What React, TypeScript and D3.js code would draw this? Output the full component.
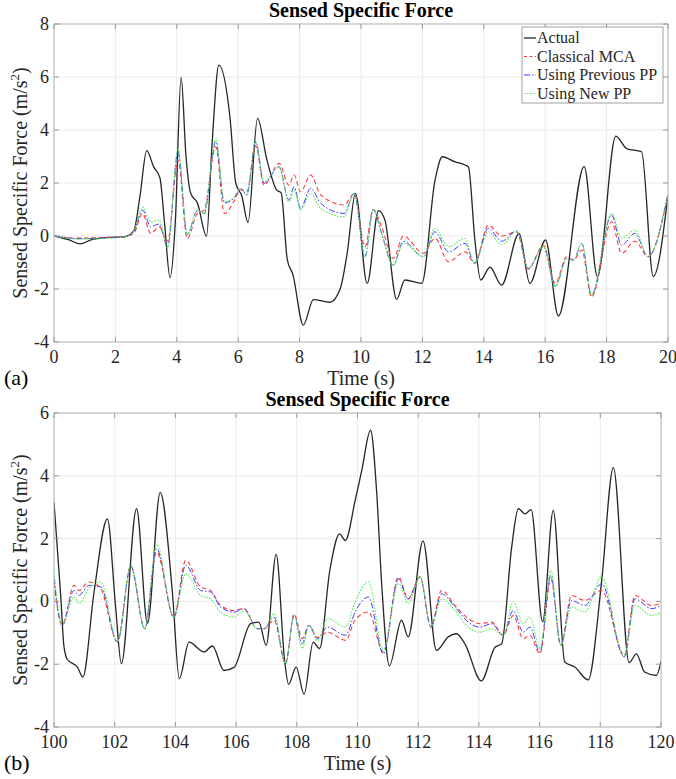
import React from "react";
import * as d3 from "d3";

// ---------- Panel (a): 0..20 s ----------
const tA_actual = [0, 0.5, 0.85, 1.2, 1.8, 2.3, 2.6, 2.8, 3.02, 3.25, 3.45, 3.6, 3.78, 3.95, 4.14, 4.3, 4.45, 4.67, 4.97, 5.15, 5.37, 5.73, 5.92, 6.12, 6.32, 6.63, 6.93, 7.25, 7.4, 7.6, 7.78, 8.12, 8.45, 8.99, 9.32, 9.55, 9.82, 10.2, 10.57, 10.78, 11.16, 11.43, 11.98, 12.41, 12.65, 13.06, 13.39, 13.5, 13.71, 13.9, 14.2, 14.58, 15.15, 15.5, 16.01, 16.43, 17.27, 17.7, 18.3, 18.65, 19.14, 19.52, 20];
const vA_actual = [0, -0.15, -0.3, -0.15, -0.05, -0.03, 0.2, 1.5, 3.22, 2.6, 2.2, 0.5, -1.57, 0.5, 5.99, 3.0, 1.62, 1.25, 0.0, 3.5, 6.45, 4.5, 2.0, 1.5, 0.5, 4.44, 2.9, 1.74, 1.62, -0.9, -1.45, -3.36, -2.4, -2.5, -2.0, -0.65, 1.61, -1.79, 0.96, 0.6, -2.39, -1.66, -1.79, 2.1, 2.99, 2.8, 2.68, 2.6, -0.15, -1.66, -1.18, -1.85, 0.1, -1.79, -0.15, -3.02, 2.62, -1.53, 3.77, 3.3, 3.18, -1.53, 1.55];

const tA_sim = [0, 0.8, 1.5, 2.3, 2.6, 2.88, 3.15, 3.42, 3.7, 4.04, 4.34, 4.67, 4.89, 5.27, 5.55, 5.86, 6.08, 6.28, 6.57, 6.84, 7.33, 7.65, 7.82, 8.03, 8.36, 8.69, 9.45, 9.78, 10.13, 10.4, 10.67, 11.05, 11.38, 12.03, 12.41, 12.85, 13.39, 13.7, 14.15, 14.58, 15.07, 15.45, 15.94, 16.33, 16.7, 16.92, 17.19, 17.51, 18.16, 18.49, 18.92, 19.35, 20];
const vA_classical = [0, -0.08, -0.06, -0.02, 0.1, 0.85, 0.1, 0.35, -0.2, 2.87, -0.09, 0.85, 0.98, 3.37, 0.85, 1.3, 1.75, 1.67, 3.4, 1.92, 2.74, 1.92, 2.3, 1.67, 2.3, 1.55, 1.17, 1.6, -0.4, 1.0, 0.35, -0.85, 0.0, -0.65, -0.09, -0.97, -0.6, -1.03, 0.41, 0.0, 0.15, -1.25, -0.35, -1.79, -0.78, -0.91, -0.53, -2.3, 0.54, -0.65, -0.2, -0.78, 1.55];
const vA_previous = [0, -0.1, -0.08, -0.03, 0.17, 0.98, 0.35, 0.45, -0.4, 3.18, 0.06, 0.96, 0.85, 3.56, 1.25, 1.42, 1.8, 1.55, 3.56, 1.99, 2.61, 1.36, 1.86, 1.04, 1.8, 1.23, 0.85, 1.61, -0.78, 1.0, 0.1, -1.1, -0.2, -0.78, 0.16, -0.6, -0.28, -1.03, 0.29, -0.2, 0.19, -1.22, -0.4, -1.9, -0.85, -0.91, -0.28, -2.23, 0.79, -0.35, 0.1, -0.78, 1.6];
const vA_new = [0, -0.12, -0.1, -0.04, 0.2, 1.1, 0.54, 0.6, -0.45, 3.31, 0.08, 0.96, 0.85, 3.68, 1.3, 1.45, 1.8, 1.55, 3.6, 2.05, 2.6, 1.3, 1.73, 0.98, 1.61, 1.04, 0.73, 1.6, -0.78, 1.0, 0.1, -1.1, -0.27, -0.78, 0.29, -0.4, -0.09, -1.03, 0.16, -0.33, 0.19, -1.22, -0.4, -1.9, -0.85, -0.91, -0.28, -2.2, 0.86, -0.09, 0.22, -0.78, 1.6];

// ---------- Panel (b): 100..120 s ----------
const tB_actual = [100, 100.22, 100.33, 100.44, 100.77, 100.95, 101.32, 101.76, 102.03, 102.22, 102.72, 103.08, 103.5, 103.9, 104.13, 104.45, 104.94, 105.22, 105.6, 105.93, 106.48, 106.75, 106.99, 107.32, 107.6, 107.73, 107.98, 108.24, 108.54, 108.75, 109.09, 109.41, 109.6, 109.92, 110.14, 110.43, 110.63, 110.8, 111.05, 111.45, 111.67, 112.16, 112.6, 112.99, 113.26, 113.54, 114.08, 114.53, 114.75, 115.08, 115.3, 115.52, 115.72, 116.1, 116.45, 116.83, 117.16, 117.6, 118.04, 118.43, 118.95, 119.19, 119.46, 119.85, 120];
const vB_actual = [3.16, 0.2, -1.45, -1.85, -2.09, -2.41, 0.3, 2.63, -0.18, -1.98, 2.95, -0.7, 3.47, 0.3, -2.46, -1.3, -1.61, -1.42, -2.2, -2.1, -0.71, -0.66, -1.4, 1.5, -1.9, -2.64, -2.09, -2.96, -1.3, -1.5, 1.0, 2.15, 1.94, 3.2, 4.17, 5.45, 3.5, 0.5, -2.05, -0.6, -1.13, 1.93, -1.56, -1.13, -1.03, -1.35, -2.53, -1.46, -1.35, 1.73, 2.95, 2.79, 2.92, -0.65, 2.9, -1.93, -2.09, -2.5, 0.6, 4.26, -1.95, -1.67, -2.25, -2.36, -1.9];

const tB_sim = [100, 100.27, 100.66, 100.82, 101.15, 101.54, 102.09, 102.53, 102.99, 103.38, 103.95, 104.34, 104.83, 105.16, 105.49, 105.93, 106.26, 106.7, 106.92, 107.25, 107.63, 107.91, 108.18, 108.4, 108.68, 109.01, 109.61, 109.92, 110.36, 110.85, 111.35, 111.67, 112.06, 112.42, 112.77, 113.21, 113.65, 114.03, 114.42, 114.8, 115.13, 115.46, 115.68, 116.01, 116.37, 116.7, 117.05, 117.49, 118.04, 118.79, 119.14, 119.69, 120];
const vB_classical = [0.56, -0.76, 0.51, 0.35, 0.62, 0.4, -1.29, 1.12, -0.87, 1.57, -0.5, 1.31, 0.46, 0.35, -0.13, -0.29, -0.23, -0.87, -0.87, -0.6, -1.98, -0.4, -1.19, -0.76, -1.15, -0.98, -1.24, -0.6, -0.34, -1.61, 0.78, 0.08, 0.78, -0.82, 0.35, -0.13, -0.55, -0.71, -0.66, -1.08, -0.45, -1.19, -1.08, -1.67, 0.72, -1.4, 0.19, 0.03, 0.35, -1.72, 0.19, -0.13, -0.07];
const vB_previous = [0.73, -0.76, 0.35, 0.19, 0.51, 0.46, -1.29, 1.12, -0.87, 1.68, -0.5, 1.15, 0.35, 0.3, -0.18, -0.34, -0.23, -0.87, -0.87, -0.5, -1.98, -0.45, -1.35, -0.76, -1.19, -0.82, -1.08, -0.34, 0.14, -1.67, 0.72, 0.08, 0.78, -0.82, 0.24, -0.18, -0.66, -0.82, -0.71, -1.08, -0.29, -0.98, -0.82, -1.61, 0.83, -1.4, 0.03, -0.13, 0.56, -1.77, 0.08, -0.23, -0.13];
const vB_new = [0.99, -0.76, 0.14, -0.07, 0.4, 0.62, -1.29, 1.18, -0.87, 1.81, -0.5, 0.88, 0.19, 0.08, -0.34, -0.5, -0.3, -0.87, -0.87, -0.4, -1.98, -0.45, -1.5, -0.76, -1.25, -0.55, -0.82, -0.02, 0.62, -1.55, 0.56, -0.07, 0.78, -0.82, 0.08, -0.29, -0.82, -0.98, -0.87, -1.08, -0.02, -0.71, -0.5, -1.5, 0.99, -1.4, -0.18, -0.34, 0.77, -1.7, -0.13, -0.45, -0.34];

const xTicksA = [0, 2, 4, 6, 8, 10, 12, 14, 16, 18, 20];
const yTicksA = [-4, -2, 0, 2, 4, 6, 8];
const xTicksB = [100, 102, 104, 106, 108, 110, 112, 114, 116, 118, 120];
const yTicksB = [-4, -2, 0, 2, 4, 6];

const legendLabels = ["Actual", "Classical MCA", "Using Previous PP", "Using New PP"];

const FONT = "'Liberation Serif', 'Times New Roman', serif";

const STYLES = [
  { color: "#262626", width: 1.3, dash: "" },
  { color: "#ff3b3b", width: 1.1, dash: "4.5,3" },
  { color: "#3b3bff", width: 1.0, dash: "6,2,1.5,2" },
  { color: "#55ee55", width: 1.1, dash: "1.6,1.4" },
];

type PanelProps = {
  id: string;
  left: number; right: number; top: number; bottom: number;
  xDomain: [number, number]; yDomain: [number, number];
  xTicks: number[]; yTicks: number[];
  series: { t: number[]; v: number[] }[];
  letter: string;
  legend?: boolean;
};

function Panel(p: PanelProps) {
  const x = d3.scaleLinear().domain(p.xDomain).range([p.left, p.right]);
  const y = d3.scaleLinear().domain(p.yDomain).range([p.bottom, p.top]);
  const line = d3.line<[number, number]>().x(d => x(d[0])).y(d => y(d[1])).curve(d3.curveMonotoneX);
  const cx = (p.left + p.right) / 2;
  const cy = (p.top + p.bottom) / 2;
  return (
    <g>
      <defs>
        <clipPath id={p.id}>
          <rect x={p.left} y={p.top} width={p.right - p.left} height={p.bottom - p.top} />
        </clipPath>
      </defs>
      <rect x={p.left} y={p.top} width={p.right - p.left} height={p.bottom - p.top} fill="#fff" />
      {p.xTicks.map(t => (
        <line key={"gx" + t} x1={x(t)} x2={x(t)} y1={p.top} y2={p.bottom} stroke="#ebebeb" strokeWidth={1} />
      ))}
      {p.yTicks.map(t => (
        <line key={"gy" + t} x1={p.left} x2={p.right} y1={y(t)} y2={y(t)} stroke="#ebebeb" strokeWidth={1} />
      ))}
      <g clipPath={`url(#${p.id})`}>
        {p.series.map((s, i) => (
          <path key={i} d={line(s.t.map((t, k) => [t, s.v[k]] as [number, number])) || ""}
            fill="none" stroke={STYLES[i].color} strokeWidth={STYLES[i].width}
            strokeDasharray={STYLES[i].dash} strokeLinejoin="round" />
        ))}
      </g>
      <rect x={p.left} y={p.top} width={p.right - p.left} height={p.bottom - p.top} fill="none" stroke="#b8b8b8" strokeWidth={1} />
      {p.xTicks.map(t => (
        <g key={"tx" + t}>
          <line x1={x(t)} x2={x(t)} y1={p.bottom} y2={p.bottom - 5} stroke="#9a9a9a" />
          <line x1={x(t)} x2={x(t)} y1={p.top} y2={p.top + 5} stroke="#9a9a9a" />
          <text x={x(t)} y={p.bottom + 21} textAnchor="middle" fontSize={18} fill="#262626" fontFamily={FONT}>{t}</text>
        </g>
      ))}
      {p.yTicks.map(t => (
        <g key={"ty" + t}>
          <line x1={p.left} x2={p.left + 5} y1={y(t)} y2={y(t)} stroke="#9a9a9a" />
          <line x1={p.right} x2={p.right - 5} y1={y(t)} y2={y(t)} stroke="#9a9a9a" />
          <text x={p.left - 5} y={y(t) + 6} textAnchor="end" fontSize={18} fill="#262626" fontFamily={FONT}>{t}</text>
        </g>
      ))}
      <text x={cx} y={p.top - 7} textAnchor="middle" fontSize={20} fontWeight="bold" fill="#000" fontFamily={FONT}>Sensed Specific Force</text>
      <text x={cx} y={p.bottom + 43} textAnchor="middle" fontSize={20} fill="#262626" fontFamily={FONT}>Time (s)</text>
      <text transform={`translate(27,${cy}) rotate(-90)`} textAnchor="middle" fontSize={20} fill="#262626" fontFamily={FONT}>
        Sensed Specific Force (m/s<tspan dy={-8} fontSize={13}>2</tspan><tspan dy={8}>)</tspan>
      </text>
      <text x={4} y={p.bottom + 43} fontSize={22} fill="#000" fontFamily={FONT}>{p.letter}</text>
      {p.legend && (
        <g>
          <rect x={522} y={27} width={141} height={76} fill="#fff" stroke="#8a8a8a" strokeWidth={0.8} />
          {legendLabels.map((lab, i) => (
            <g key={lab}>
              <line x1={524} x2={536} y1={38 + i * 18.5} y2={38 + i * 18.5}
                stroke={STYLES[i].color} strokeWidth={STYLES[i].width} strokeDasharray={i === 1 ? "3,2.5" : STYLES[i].dash} />
              <text x={537} y={43 + i * 18.5} fontSize={16} fill="#262626" fontFamily={FONT}>{lab}</text>
            </g>
          ))}
        </g>
      )}
    </g>
  );
}

export default function App() {
  return (
    <svg width={676} height={779} style={{ position: "absolute", left: 0, top: 0, background: "#fff" }}>
      <rect width={676} height={779} fill="#fff" />
      <Panel id="clipA" left={54} right={668} top={24} bottom={342}
        xDomain={[0, 20]} yDomain={[-4, 8]} xTicks={xTicksA} yTicks={yTicksA} letter="(a)" legend
        series={[
          { t: tA_actual, v: vA_actual },
          { t: tA_sim, v: vA_classical },
          { t: tA_sim, v: vA_previous },
          { t: tA_sim, v: vA_new },
        ]} />
      <Panel id="clipB" left={54} right={661} top={413} bottom={727}
        xDomain={[100, 120]} yDomain={[-4, 6]} xTicks={xTicksB} yTicks={yTicksB} letter="(b)"
        series={[
          { t: tB_actual, v: vB_actual },
          { t: tB_sim, v: vB_classical },
          { t: tB_sim, v: vB_previous },
          { t: tB_sim, v: vB_new },
        ]} />
    </svg>
  );
}
